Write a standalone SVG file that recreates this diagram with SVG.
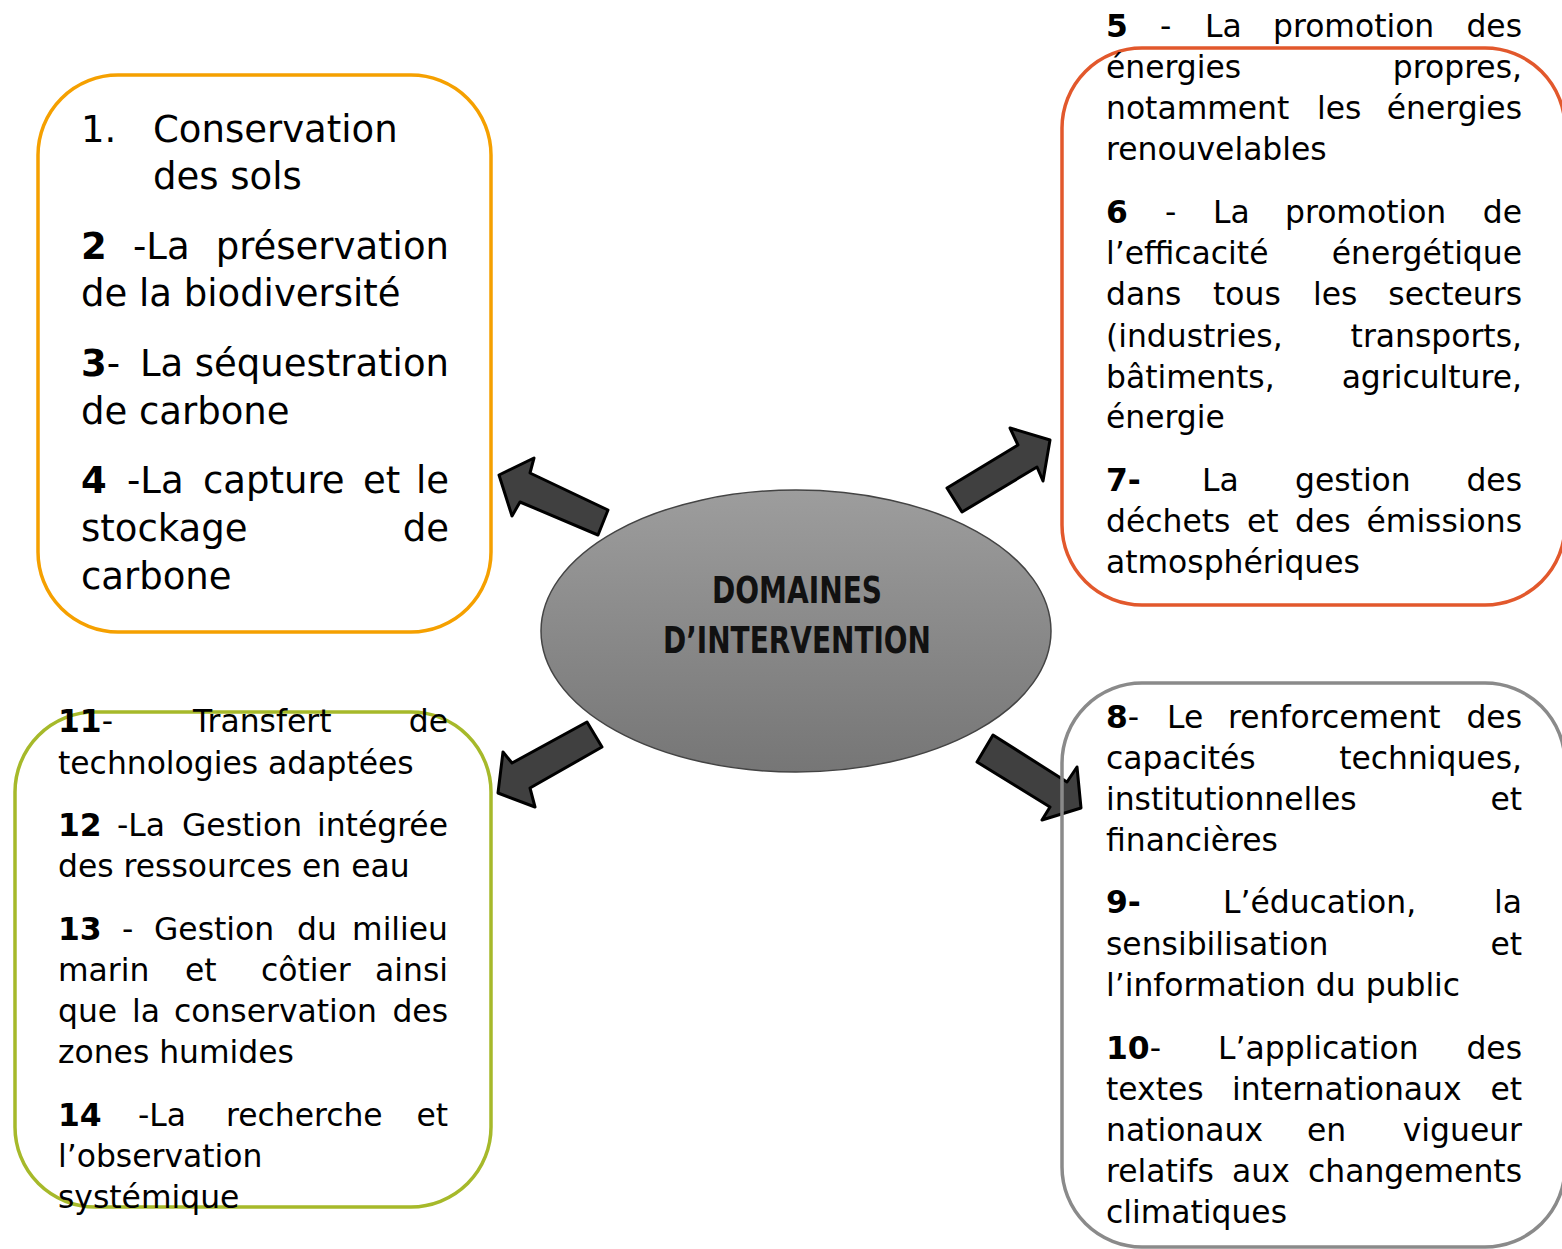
<svg xmlns="http://www.w3.org/2000/svg" width="1562" height="1249" viewBox="0 0 1562 1249">
<defs>
<linearGradient id="g" x1="0" y1="0" x2="0" y2="1">
<stop offset="0" stop-color="#9d9d9d"/>
<stop offset="1" stop-color="#767676"/>
</linearGradient>
<style>
.t{font-family:"DejaVu Sans",Verdana,sans-serif;font-size:31.4px;fill:#000}
.L{font-size:37px}
.b{font-weight:bold}
.e{text-anchor:end}
.box{fill:none;stroke-width:3.5}
.arr{fill:#404040;stroke:#000;stroke-width:3;stroke-linejoin:round}
.c{font-family:"DejaVu Sans Condensed","DejaVu Sans",sans-serif;font-weight:bold;font-size:37px;fill:#111;text-anchor:middle}
</style>
</defs>
<rect width="1562" height="1249" fill="#fff"/>

<g id="connectors">
<polygon class="arr" points="499,475 534,458 530,473 608,510 598,535 520,502 512,516"/>
<polygon class="arr" points="1050,440 1010,428 1018,445 947,488 962,512 1037,467 1043,481"/>
<polygon class="arr" points="498,793 503,752 512,763 587,722 602,747 530,788 535,807"/>
<polygon class="arr" points="1081,808 1077,767 1067,782 993,735 977,762 1050,807 1042,820"/>
</g>

<g id="center">
<ellipse cx="796" cy="631" rx="255" ry="141" fill="url(#g)" stroke="#444" stroke-width="1.5"/>
<text class="c" x="797" y="603" textLength="170" lengthAdjust="spacingAndGlyphs">DOMAINES</text>
<text class="c" x="797" y="653" textLength="268" lengthAdjust="spacingAndGlyphs">D’INTERVENTION</text>
</g>

<g id="box-top-left">
<rect class="box" x="38" y="75" width="453" height="557" rx="80" stroke="#F5A000"/>
<text class="t L" y="142"><tspan x="81">1.</tspan><tspan x="153">Conservation</tspan></text>
<text class="t L" y="189" x="153">des sols</text>
<text class="t L" y="259"><tspan x="81" class="b">2</tspan><tspan x="133">-La</tspan><tspan x="449" class="e">préservation</tspan></text>
<text class="t L" y="306" x="81">de la biodiversité</text>
<text class="t L" y="376"><tspan x="81" class="b">3</tspan>-<tspan x="140">La</tspan><tspan x="449" class="e">séquestration</tspan></text>
<text class="t L" y="424" x="81">de carbone</text>
<text class="t L" y="493"><tspan x="81" class="b">4</tspan><tspan x="127">-La</tspan><tspan x="203">capture</tspan><tspan x="363">et</tspan><tspan x="449" class="e">le</tspan></text>
<text class="t L" y="541"><tspan x="81">stockage</tspan><tspan x="449" class="e">de</tspan></text>
<text class="t L" y="589" x="81">carbone</text>
</g>

<g id="box-top-right">
<rect class="box" x="1062" y="48" width="503" height="557" rx="80" stroke="#E2582C"/>
<text class="t" y="37"><tspan x="1106" class="b">5</tspan><tspan x="1160">-</tspan><tspan x="1205">La</tspan><tspan x="1273">promotion</tspan><tspan x="1522" class="e">des</tspan></text>
<text class="t" y="78"><tspan x="1106">énergies</tspan><tspan x="1522" class="e">propres,</tspan></text>
<text class="t" y="119"><tspan x="1106">notamment</tspan><tspan x="1317">les</tspan><tspan x="1522" class="e">énergies</tspan></text>
<text class="t" y="160" x="1106">renouvelables</text>
<text class="t" y="223"><tspan x="1106" class="b">6</tspan><tspan x="1165">-</tspan><tspan x="1213">La</tspan><tspan x="1285">promotion</tspan><tspan x="1522" class="e">de</tspan></text>
<text class="t" y="264"><tspan x="1106">l’efficacité</tspan><tspan x="1522" class="e">énergétique</tspan></text>
<text class="t" y="305"><tspan x="1106">dans</tspan><tspan x="1213">tous</tspan><tspan x="1313">les</tspan><tspan x="1522" class="e">secteurs</tspan></text>
<text class="t" y="347"><tspan x="1106">(industries,</tspan><tspan x="1522" class="e">transports,</tspan></text>
<text class="t" y="388"><tspan x="1106">bâtiments,</tspan><tspan x="1522" class="e">agriculture,</tspan></text>
<text class="t" y="428" x="1106">énergie</text>
<text class="t" y="491"><tspan x="1106" class="b">7-</tspan><tspan x="1202">La</tspan><tspan x="1295">gestion</tspan><tspan x="1522" class="e">des</tspan></text>
<text class="t" y="532"><tspan x="1106">déchets</tspan><tspan x="1247">et</tspan><tspan x="1295">des</tspan><tspan x="1522" class="e">émissions</tspan></text>
<text class="t" y="573" x="1106">atmosphériques</text>
</g>

<g id="box-bottom-right">
<rect class="box" x="1062" y="683" width="503" height="564" rx="80" stroke="#8A8A8A"/>
<text class="t" y="728"><tspan x="1106" class="b">8</tspan>-<tspan x="1167">Le</tspan><tspan x="1228">renforcement</tspan><tspan x="1522" class="e">des</tspan></text>
<text class="t" y="769"><tspan x="1106">capacités</tspan><tspan x="1522" class="e">techniques,</tspan></text>
<text class="t" y="810"><tspan x="1106">institutionnelles</tspan><tspan x="1522" class="e">et</tspan></text>
<text class="t" y="851" x="1106">financières</text>
<text class="t" y="913"><tspan x="1106" class="b">9-</tspan><tspan x="1223">L’éducation,</tspan><tspan x="1522" class="e">la</tspan></text>
<text class="t" y="955"><tspan x="1106">sensibilisation</tspan><tspan x="1522" class="e">et</tspan></text>
<text class="t" y="996" x="1106">l’information du public</text>
<text class="t" y="1059"><tspan x="1106" class="b">10</tspan>-<tspan x="1218">L’application</tspan><tspan x="1522" class="e">des</tspan></text>
<text class="t" y="1100"><tspan x="1106">textes</tspan><tspan x="1232">internationaux</tspan><tspan x="1522" class="e">et</tspan></text>
<text class="t" y="1141"><tspan x="1106">nationaux</tspan><tspan x="1307">en</tspan><tspan x="1522" class="e">vigueur</tspan></text>
<text class="t" y="1182"><tspan x="1106">relatifs</tspan><tspan x="1232">aux</tspan><tspan x="1522" class="e">changements</tspan></text>
<text class="t" y="1223" x="1106">climatiques</text>
</g>

<g id="box-bottom-left">
<rect class="box" x="15" y="712" width="476" height="495" rx="80" stroke="#A6B92A"/>
<text class="t" y="732"><tspan x="58" class="b">11</tspan>-<tspan x="193">Transfert</tspan><tspan x="448" class="e">de</tspan></text>
<text class="t" y="774" x="58">technologies adaptées</text>
<text class="t" y="836"><tspan x="58" class="b">12</tspan><tspan x="117">-La</tspan><tspan x="182">Gestion</tspan><tspan x="448" class="e">intégrée</tspan></text>
<text class="t" y="877" x="58">des ressources en eau</text>
<text class="t" y="940"><tspan x="58" class="b">13</tspan><tspan x="122">-</tspan><tspan x="154">Gestion</tspan><tspan x="297">du</tspan><tspan x="448" class="e">milieu</tspan></text>
<text class="t" y="981"><tspan x="58">marin</tspan><tspan x="185">et</tspan><tspan x="261">côtier</tspan><tspan x="448" class="e">ainsi</tspan></text>
<text class="t" y="1022"><tspan x="58">que</tspan><tspan x="132">la</tspan><tspan x="174">conservation</tspan><tspan x="448" class="e">des</tspan></text>
<text class="t" y="1063" x="58">zones humides</text>
<text class="t" y="1126"><tspan x="58" class="b">14</tspan><tspan x="138">-La</tspan><tspan x="226">recherche</tspan><tspan x="448" class="e">et</tspan></text>
<text class="t" y="1167" x="58">l’observation</text>
<text class="t" y="1208" x="58">systémique</text>
</g>
</svg>
